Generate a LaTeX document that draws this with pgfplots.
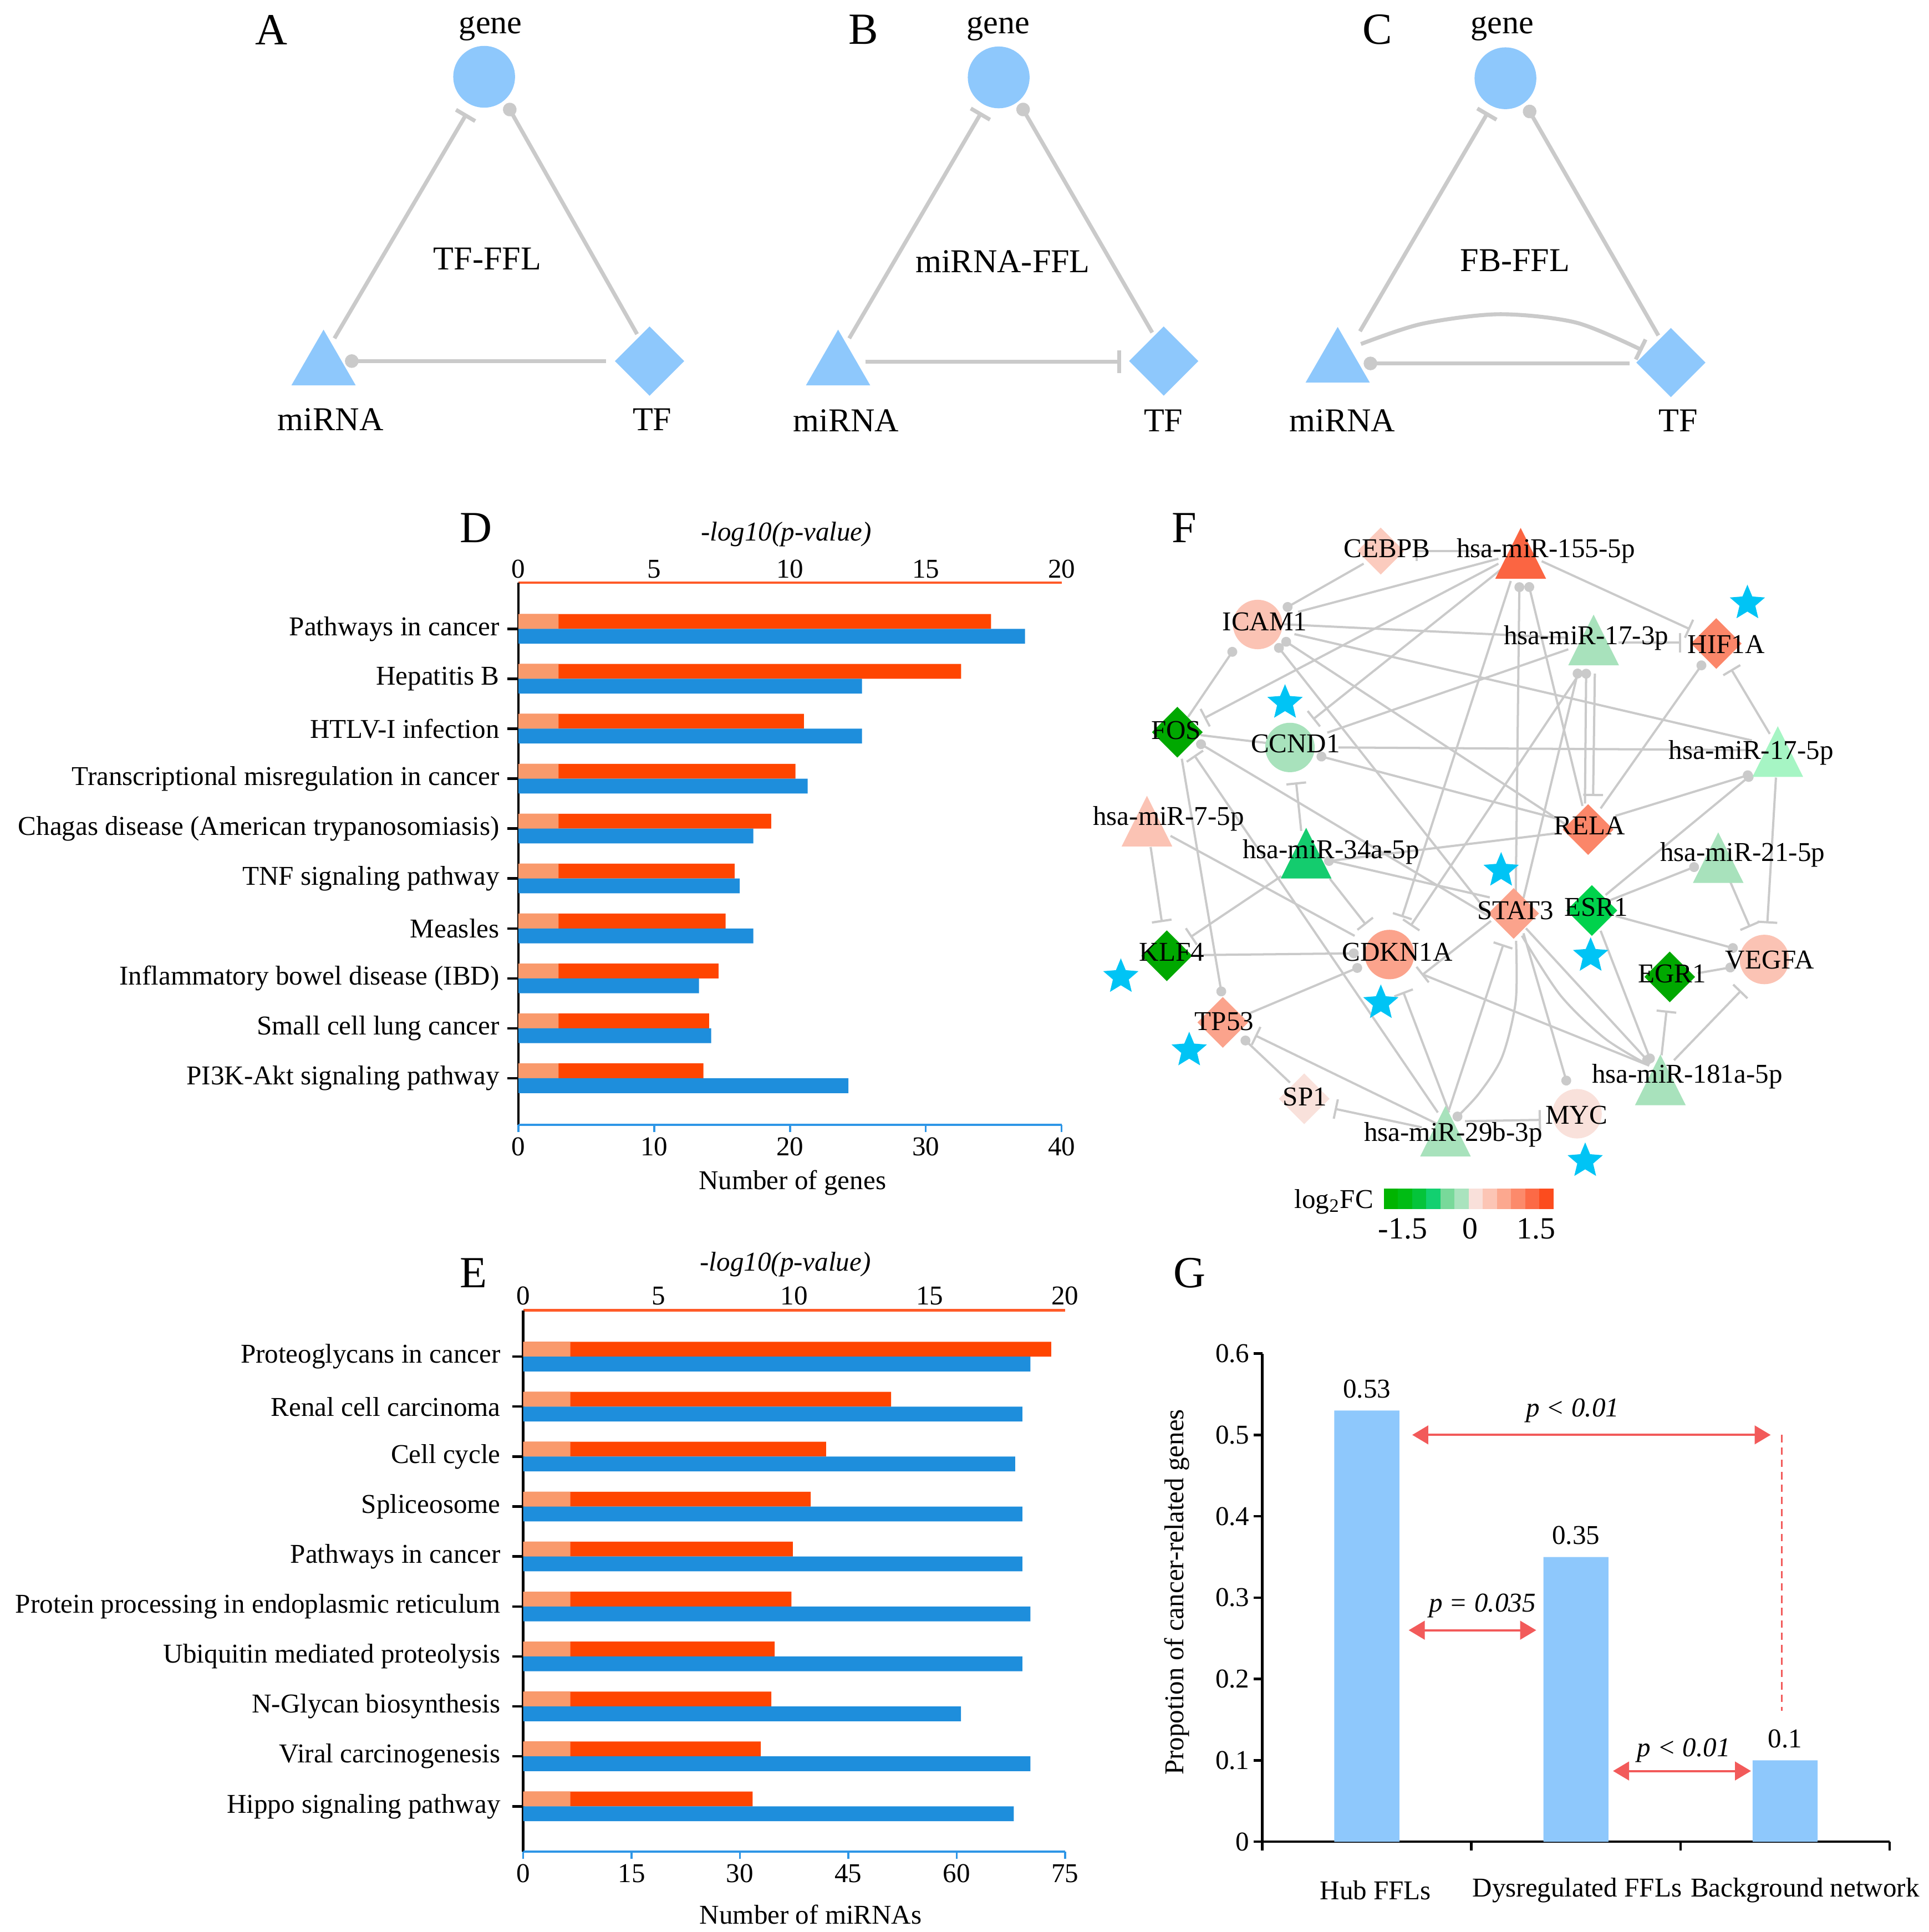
\documentclass[border=0pt]{standalone}
\usepackage{pgfplots}
\pgfplotsset{compat=1.18}
\usepackage{fontspec}
\setmainfont{Liberation Serif}
\usetikzlibrary{arrows.meta}

\newcommand{\fsz}[1]{\fontsize{#1}{#1}\selectfont}

\definecolor{nodeblue}{HTML}{8EC8FC}
\definecolor{edgegray}{HTML}{CACACA}
\definecolor{barorange}{HTML}{FF4500}
\definecolor{lightorange}{HTML}{F99A6C}
\definecolor{barblue}{HTML}{1E8EDC}
\definecolor{axorange}{HTML}{FF5A28}
\definecolor{axblue}{HTML}{2E96E6}
\definecolor{pred}{HTML}{F25A5A}
\definecolor{starblue}{HTML}{00C4F5}
\definecolor{fpink}{HTML}{FBC3B4}
\definecolor{fpinkb}{HTML}{FBCBBE}
\definecolor{fsalmon}{HTML}{FBA38C}
\definecolor{forange}{HTML}{FB8669}
\definecolor{fred}{HTML}{FB6542}
\definecolor{fpale}{HTML}{F9E1DB}
\definecolor{fgreenL}{HTML}{A8E2BC}
\definecolor{fmint}{HTML}{A6F5C4}
\definecolor{fgreenM}{HTML}{14CC6E}
\definecolor{fgreenB}{HTML}{00D24C}
\definecolor{fgreenD}{HTML}{00A800}
\definecolor{cba}{HTML}{00B400}
\definecolor{cbb}{HTML}{00BC14}
\definecolor{cbc}{HTML}{04C43A}
\definecolor{cbd}{HTML}{12D070}
\definecolor{cbe}{HTML}{78D99A}
\definecolor{cbf}{HTML}{AAE3BE}
\definecolor{cbg}{HTML}{F9E0DA}
\definecolor{cbh}{HTML}{FCC5B5}
\definecolor{cbi}{HTML}{FCA88F}
\definecolor{cbj}{HTML}{FC8A6B}
\definecolor{cbk}{HTML}{FC6A46}
\definecolor{cbl}{HTML}{FC4C1E}

% node shapes, centred on their bounding box
\pgfdeclareplotmark{dot}{\pgfpathcircle{\pgfpointorigin}{\pgfplotmarksize}\pgfusepathqfill}
\pgfdeclareplotmark{tri}{%
  \pgfpathmoveto{\pgfqpoint{0pt}{0.866\pgfplotmarksize}}%
  \pgfpathlineto{\pgfqpoint{\pgfplotmarksize}{-0.866\pgfplotmarksize}}%
  \pgfpathlineto{\pgfqpoint{-\pgfplotmarksize}{-0.866\pgfplotmarksize}}%
  \pgfpathclose\pgfusepathqfill}
\pgfdeclareplotmark{trif}{%
  \pgfpathmoveto{\pgfqpoint{0pt}{\pgfplotmarksize}}%
  \pgfpathlineto{\pgfqpoint{\pgfplotmarksize}{-\pgfplotmarksize}}%
  \pgfpathlineto{\pgfqpoint{-\pgfplotmarksize}{-\pgfplotmarksize}}%
  \pgfpathclose\pgfusepathqfill}
\pgfdeclareplotmark{dia}{%
  \pgfpathmoveto{\pgfqpoint{0pt}{\pgfplotmarksize}}%
  \pgfpathlineto{\pgfqpoint{\pgfplotmarksize}{0pt}}%
  \pgfpathlineto{\pgfqpoint{0pt}{-\pgfplotmarksize}}%
  \pgfpathlineto{\pgfqpoint{-\pgfplotmarksize}{0pt}}%
  \pgfpathclose\pgfusepathqfill}
\pgfdeclareplotmark{fstar}{%
  \pgfpathmoveto{\pgfqpoint{0pt}{\pgfplotmarksize}}%
  \pgfpathlineto{\pgfqpoint{-0.265\pgfplotmarksize}{0.364\pgfplotmarksize}}%
  \pgfpathlineto{\pgfqpoint{-0.951\pgfplotmarksize}{0.309\pgfplotmarksize}}%
  \pgfpathlineto{\pgfqpoint{-0.428\pgfplotmarksize}{-0.139\pgfplotmarksize}}%
  \pgfpathlineto{\pgfqpoint{-0.588\pgfplotmarksize}{-0.809\pgfplotmarksize}}%
  \pgfpathlineto{\pgfqpoint{0pt}{-0.45\pgfplotmarksize}}%
  \pgfpathlineto{\pgfqpoint{0.588\pgfplotmarksize}{-0.809\pgfplotmarksize}}%
  \pgfpathlineto{\pgfqpoint{0.428\pgfplotmarksize}{-0.139\pgfplotmarksize}}%
  \pgfpathlineto{\pgfqpoint{0.951\pgfplotmarksize}{0.309\pgfplotmarksize}}%
  \pgfpathlineto{\pgfqpoint{0.265\pgfplotmarksize}{0.364\pgfplotmarksize}}%
  \pgfpathclose\pgfusepathqfill}

\pgfplotsset{
  canvas/.style={at={(0pt,0pt)}, anchor=north west, scale only axis,
    width=780pt, height=781.5pt, xmin=0, xmax=1560, ymin=0, ymax=1563, y dir=reverse,
    hide axis, clip=false},
  edgeA/.style={color=edgegray, line width=1.6pt, no marks},
  edgeF/.style={color=edgegray, line width=0.9pt, no marks},
  inhA/.style={edgeA, -{Bar[width=9pt]}},
  actA/.style={edgeA, -{Circle[length=5.5pt]}},
  inhF/.style={edgeF, -{Bar[width=8pt]}},
  actF/.style={edgeF, -{Circle[length=4pt]}},
  cb/.style={draw=none, fill=#1},
}

\begin{document}
\begin{tikzpicture}

% ---------- canvas in reference pixels (half points): networks A, B, C, F
\begin{axis}[canvas]

% A
\addplot[inhA] coordinates {(270.5,273.7) (377.4,92)};
\addplot[actA] coordinates {(515.3,270.3) (409.6,83.8)};
\addplot[actA] coordinates {(490,292.1) (279,292.1)};
% B
\addplot[inhA] coordinates {(686.9,273.7) (793.8,90.9)};
\addplot[actA] coordinates {(932,269) (824.8,83.8)};
\addplot[inhA] coordinates {(699.9,292.6) (906.9,292.6)};
% C
\addplot[inhA] coordinates {(1100,268) (1203.5,90.9)};
\addplot[actA] coordinates {(1341.4,271.4) (1234.5,85.4)};
\addplot[actA] coordinates {(1318.2,294) (1103,294)};
\addplot[inhA, smooth] coordinates {(1100.8,278.3) (1150,262) (1212.6,254.2) (1275,261) (1328.5,283.4)};

\addplot[only marks, mark=dot, mark size=12.5pt, color=nodeblue] coordinates {(391.6,62.1) (807.8,62.6) (1217.7,63.3)};
\addplot[only marks, mark=tri, mark size=13pt, color=nodeblue] coordinates {(261.7,289.2) (677.9,289.2) (1082,287)};
\addplot[only marks, mark=dia, mark size=14pt, color=nodeblue] coordinates {(525.4,292.1) (941.3,292.1) (1351.5,293.3)};

% F edges
\addplot[inhF] coordinates {(1212,446) (1145,446)};
\addplot[actF] coordinates {(1103,456) (1038,493)};
\addplot[edgeF] coordinates {(1212,452) (1050,495)};
\addplot[inhF] coordinates {(1212,456) (974,581)};
\addplot[actF] coordinates {(961,580) (999,524)};
\addplot[inhF] coordinates {(1215,460) (1062,582)};
\addplot[inhF] coordinates {(1247,454) (1367,509)};
\addplot[actF] coordinates {(1226,726) (1229,471)};
\addplot[actF] coordinates {(1280,652) (1236,471)};
\addplot[inhF] coordinates {(1222,470) (1134,742)};
\addplot[edgeF] coordinates {(1037,505) (1268,516)};
\addplot[inhF] coordinates {(1309,520) (1360,520)};
\addplot[edgeF] coordinates {(1047,513) (1417,599)};
\addplot[actF] coordinates {(1268,668) (1037,517)};
\addplot[actF] coordinates {(1204,739) (1032,521)};
\addplot[edgeF] coordinates {(1073.6,592.7) (1268.5,525.3)};
\addplot[edgeF] coordinates {(1082.6,604.7) (1418,606.8)};
\addplot[actF] coordinates {(1258.5,662) (1065,611)};
\addplot[edgeF] coordinates {(971,594.7) (1024,601)};
\addplot[actF] coordinates {(1204,741) (968,600)};
\addplot[inhF] coordinates {(1163,900) (966,611)};
\addplot[actF] coordinates {(955.9,613.8) (988.5,806)};
\addplot[inhF] coordinates {(930.7,685.2) (939.8,746)};
\addplot[edgeF] coordinates {(946.8,676.2) (1095.7,757.1)};
\addplot[inhF] coordinates {(1075.6,710.8) (1104.8,748)};
\addplot[inhF] coordinates {(1052.5,672.2) (1048.4,632.9)};
\addplot[inhF] coordinates {(1036.4,708.8) (962.9,758.1)};
\addplot[actF] coordinates {(1258.5,674.2) (1071,697)};
\addplot[edgeF] coordinates {(1075.6,696.3) (1205,726)};
\addplot[actF] coordinates {(973.4,772.6) (1099,771.2)};
\addplot[actF] coordinates {(1282,650) (1283,541)};
\addplot[inhF] coordinates {(1290,545) (1288.6,644)};
\addplot[inhF] coordinates {(1278.6,543.4) (1141,749)};
\addplot[actF] coordinates {(1232.3,726.5) (1277,541)};
\addplot[actF] coordinates {(1294.7,654) (1378.5,535)};
\addplot[inhF] coordinates {(1431.5,593.7) (1400.3,541.4)};
\addplot[actF] coordinates {(1306.7,660) (1417.5,626)};
\addplot[actF] coordinates {(1298.7,724) (1417.5,626)};
\addplot[inhF] coordinates {(1436.5,629) (1429.5,747)};
\addplot[inhF] coordinates {(1399.3,712.8) (1415.4,750)};
\addplot[actF] coordinates {(1300.7,728.9) (1374,700)};
\addplot[actF] coordinates {(1306.7,741) (1405.5,768)};
\addplot[actF] coordinates {(1373.1,787.3) (1403.5,782)};
\addplot[inhF] coordinates {(1344,853.7) (1348,817.5)};
\addplot[inhF] coordinates {(1354,857.7) (1408.3,801.4)};
\addplot[actF] coordinates {(1294.7,753) (1336,860)};
\addplot[actF] coordinates {(1234.3,751) (1335,860.5)};
\addplot[edgeF, smooth] coordinates {(1231,757) (1262,805) (1298,840) (1334,862)};
\addplot[edgeF] coordinates {(1151,788.4) (1333.8,862)};
\addplot[actF] coordinates {(1232.3,755) (1268,878)};
\addplot[actF, smooth] coordinates {(1226.3,761.1) (1226,810) (1215,855) (1196,885) (1176,906)};
\addplot[inhF] coordinates {(1172,898) (1216,764)};
\addplot[inhF] coordinates {(1185,907) (1246.4,906)};
\addplot[inhF] coordinates {(1150,912) (1079.6,897)};
\addplot[inhF] coordinates {(1164.1,910) (1015.2,837.6)};
\addplot[actF] coordinates {(1043.4,875.8) (1004.5,839)};
\addplot[actF] coordinates {(1011.2,819.5) (1101.5,781.5)};
\addplot[inhF] coordinates {(1172.2,900) (1135,802.4)};
\addplot[inhF] coordinates {(1206,745) (1150,789)};

% F nodes
\addplot[only marks, mark=dot, mark size=10pt, color=fpink] coordinates {(1017.3,505.2) (1427.1,776.2)};
\addplot[only marks, mark=dot, mark size=10pt, color=fgreenL] coordinates {(1043.4,604.7)};
\addplot[only marks, mark=dot, mark size=10pt, color=fsalmon] coordinates {(1123.9,772.2)};
\addplot[only marks, mark=dot, mark size=10pt, color=fpale] coordinates {(1275.6,901)};
\addplot[only marks, mark=dia, mark size=9.5pt, color=fpinkb] coordinates {(1116.8,445.8)};
\addplot[only marks, mark=dia, mark size=10.25pt, color=forange] coordinates {(1388.2,520.6) (1284.6,671.1)};
\addplot[only marks, mark=dia, mark size=10.25pt, color=fgreenD] coordinates {(952.3,592.3) (943.8,773.2) (1350.6,790.3)};
\addplot[only marks, mark=dia, mark size=10.25pt, color=fgreenB] coordinates {(1287.6,736.6)};
\addplot[only marks, mark=dia, mark size=10.25pt, color=fsalmon] coordinates {(1224.3,739) (989.1,827.1)};
\addplot[only marks, mark=dia, mark size=10.25pt, color=fpale] coordinates {(1054.9,888.9)};
\addplot[only marks, mark=trif, mark size=10.25pt, color=fred] coordinates {(1230,447.6)};
\addplot[only marks, mark=trif, mark size=10.25pt, color=fgreenL] coordinates {(1289,517.7) (1389.8,693.8) (1343,873.6) (1169.2,915.1)};
\addplot[only marks, mark=trif, mark size=10.25pt, color=fmint] coordinates {(1438,608)};
\addplot[only marks, mark=trif, mark size=10.25pt, color=fpink] coordinates {(927.7,664.3)};
\addplot[only marks, mark=trif, mark size=10.25pt, color=fgreenM] coordinates {(1056.5,690.2)};
\addplot[only marks, mark=fstar, mark size=7.5pt, color=starblue] coordinates {(1039.4,568.5) (1413.4,488) (1214.2,704.3) (1286.6,773.2) (906.6,790.3) (1116.9,811.4) (961.9,849.7) (1282.2,939.2)};

% F colour key
\addplot[cb=cba] coordinates {(1119.3,961.6) (1130.7,961.6) (1130.7,978) (1119.3,978)} -- cycle;
\addplot[cb=cbb] coordinates {(1130.7,961.6) (1142.2,961.6) (1142.2,978) (1130.7,978)} -- cycle;
\addplot[cb=cbc] coordinates {(1142.2,961.6) (1153.6,961.6) (1153.6,978) (1142.2,978)} -- cycle;
\addplot[cb=cbd] coordinates {(1153.6,961.6) (1165,961.6) (1165,978) (1153.6,978)} -- cycle;
\addplot[cb=cbe] coordinates {(1165,961.6) (1176.5,961.6) (1176.5,978) (1165,978)} -- cycle;
\addplot[cb=cbf] coordinates {(1176.5,961.6) (1187.9,961.6) (1187.9,978) (1176.5,978)} -- cycle;
\addplot[cb=cbg] coordinates {(1187.9,961.6) (1199.3,961.6) (1199.3,978) (1187.9,978)} -- cycle;
\addplot[cb=cbh] coordinates {(1199.3,961.6) (1210.8,961.6) (1210.8,978) (1199.3,978)} -- cycle;
\addplot[cb=cbi] coordinates {(1210.8,961.6) (1222.2,961.6) (1222.2,978) (1210.8,978)} -- cycle;
\addplot[cb=cbj] coordinates {(1222.2,961.6) (1233.6,961.6) (1233.6,978) (1222.2,978)} -- cycle;
\addplot[cb=cbk] coordinates {(1233.6,961.6) (1245.1,961.6) (1245.1,978) (1233.6,978)} -- cycle;
\addplot[cb=cbl] coordinates {(1245.1,961.6) (1256.5,961.6) (1256.5,978) (1245.1,978)} -- cycle;
\end{axis}

% ---------- same canvas again, only for the text, so that it lies above the nodes
\begin{axis}[canvas]
\node[font=\fsz{18}] at (axis cs:219.5,24) {A};
\node[font=\fsz{18}] at (axis cs:698.6,24) {B};
\node[font=\fsz{18}] at (axis cs:1114.2,24) {C};
\node[font=\fsz{13.5}] at (axis cs:396.8,23) {gene};
\node[font=\fsz{13.5}] at (axis cs:807.3,23) {gene};
\node[font=\fsz{13.5}] at (axis cs:1215.2,23) {gene};
\node[font=\fsz{13.5}] at (axis cs:267.4,339.3) {miRNA};
\node[font=\fsz{13.5}] at (axis cs:684.3,340.4) {miRNA};
\node[font=\fsz{13.5}] at (axis cs:1085.7,340.4) {miRNA};
\node[font=\fsz{13.5}] at (axis cs:527.5,339.3) {TF};
\node[font=\fsz{13.5}] at (axis cs:941,340.4) {TF};
\node[font=\fsz{13.5}] at (axis cs:1357.5,340.4) {TF};
\node[font=\fsz{13.5}] at (axis cs:394.2,209.3) {TF-FFL};
\node[font=\fsz{13.5}] at (axis cs:811.1,211.6) {miRNA-FFL};
\node[font=\fsz{13.5}] at (axis cs:1225.5,210.5) {FB-FFL};

\node[font=\fsz{18}] at (axis cs:958,427) {F};
\node[font=\fsz{11}] at (axis cs:1121.9,443.8) {CEBPB};
\node[font=\fsz{11}] at (axis cs:1250.4,445.8) {hsa-miR-155-5p};
\node[font=\fsz{11}] at (axis cs:1023.1,503.1) {ICAM1};
\node[font=\fsz{11}] at (axis cs:1283,516.2) {hsa-miR-17-3p};
\node[font=\fsz{11}] at (axis cs:1396.3,521.3) {HIF1A};
\node[font=\fsz{11}] at (axis cs:951.3,590.7) {FOS};
\node[font=\fsz{11}] at (axis cs:1047.9,601.7) {CCND1};
\node[font=\fsz{11}] at (axis cs:1416.4,608.8) {hsa-miR-17-5p};
\node[font=\fsz{11}] at (axis cs:945.2,662.1) {hsa-miR-7-5p};
\node[font=\fsz{11}] at (axis cs:1285.8,668.1) {RELA};
\node[font=\fsz{11}] at (axis cs:1076.6,689.3) {hsa-miR-34a-5p};
\node[font=\fsz{11}] at (axis cs:1409.4,691.3) {hsa-miR-21-5p};
\node[font=\fsz{11}] at (axis cs:1225.7,736.6) {STAT3};
\node[font=\fsz{11}] at (axis cs:1291,734) {ESR1};
\node[font=\fsz{11}] at (axis cs:947.8,770.2) {KLF4};
\node[font=\fsz{11}] at (axis cs:1130.3,770.2) {CDKN1A};
\node[font=\fsz{11}] at (axis cs:1352.4,787.9) {EGR1};
\node[font=\fsz{11}] at (axis cs:1431.5,776.8) {VEGFA};
\node[font=\fsz{11}] at (axis cs:990.3,826.5) {TP53};
\node[font=\fsz{11}] at (axis cs:1364.7,870.8) {hsa-miR-181a-5p};
\node[font=\fsz{11}] at (axis cs:1055.5,887.5) {SP1};
\node[font=\fsz{11}] at (axis cs:1275,902) {MYC};
\node[font=\fsz{11}] at (axis cs:1175.5,918) {hsa-miR-29b-3p};
\node[font=\fsz{11}] at (axis cs:1079,972) {log\textsubscript{2}FC};
\node[font=\fsz{12.5}] at (axis cs:1134.7,994) {-1.5};
\node[font=\fsz{12.5}] at (axis cs:1189,994) {0};
\node[font=\fsz{12.5}] at (axis cs:1242.4,994) {1.5};

\node[font=\fsz{18}] at (axis cs:385,427) {D};
\node[font=\fsz{18}] at (axis cs:383,1030) {E};
\node[font=\fsz{18}] at (axis cs:962,1030) {G};
\node[font=\fsz{11}\itshape] at (axis cs:636,432.4) {-log10(p-value)};
\node[font=\fsz{11}\itshape] at (axis cs:635.3,1023) {-log10(p-value)};
\node[font=\fsz{11}] at (axis cs:641,957) {Number of genes};
\node[font=\fsz{11}] at (axis cs:655.8,1549) {Number of miRNAs};
\node[font=\fsz{11}, rotate=90] at (axis cs:952,1288) {Propotion of cancer-related genes};
\node[font=\fsz{11}] at (axis cs:1112.6,1529) {Hub FFLs};
\node[font=\fsz{11}] at (axis cs:1275.7,1529) {Dysregulated FFLs};
\node[font=\fsz{11}] at (axis cs:1460,1529) {Background network};
\node[font=\fsz{11}\itshape] at (axis cs:1272,1141) {p < 0.01};
\node[font=\fsz{11}\itshape] at (axis cs:1199,1299) {p = 0.035};
\node[font=\fsz{11}\itshape] at (axis cs:1362,1416) {p < 0.01};
\end{axis}

% ---------- D: -log10(p) (top, orange) and number of genes (bottom, blue)
\begin{axis}[at={(209.65pt,-235.65pt)}, anchor=north west, scale only axis,
  width=219.7pt, height=219.35pt, xmin=0, xmax=20, ymin=0.067, ymax=10.926,
  axis x line*=top, axis y line*=left,
  x axis line style={draw=axorange, line width=1pt, -},
  y axis line style={draw=black, line width=1pt, -},
  xtick={0,5,10,15,20}, xtick style={draw=none},
  ytick={1,...,10},
  yticklabels={PI3K-Akt signaling pathway, Small cell lung cancer, Inflammatory bowel disease (IBD), Measles, TNF signaling pathway, Chagas disease (American trypanosomiasis), Transcriptional misregulation in cancer, HTLV-I infection, Hepatitis B, Pathways in cancer},
  tick align=outside, major tick length=4.5pt, ytick style={black, line width=1pt},
  tick label style={font=\fsz{11}}, yticklabel style={inner sep=3pt}, xticklabel style={inner sep=1pt, yshift=-4pt},
  /pgf/number format/assume math mode=true,
  xbar, bar width=6pt, clip=false]
\addplot[fill=barorange, draw=none, bar shift=3pt] coordinates {(6.81,1) (7.02,2) (7.37,3) (7.63,4) (7.96,5) (9.31,6) (10.20,7) (10.51,8) (16.30,9) (17.40,10)};
\addplot[fill=lightorange, draw=none, bar shift=3pt] coordinates {(1.48,1) (1.48,2) (1.48,3) (1.48,4) (1.48,5) (1.48,6) (1.48,7) (1.48,8) (1.48,9) (1.48,10)};
\end{axis}
\begin{axis}[at={(209.65pt,-235.65pt)}, anchor=north west, scale only axis,
  width=219.7pt, height=219.35pt, xmin=0, xmax=40, ymin=0.067, ymax=10.926,
  axis x line*=bottom, axis y line=none,
  x axis line style={draw=axblue, line width=1pt, -},
  xtick={0,10,20,30,40}, xtick style={axblue, line width=0.8pt}, ytick=\empty,
  tick align=outside, major tick length=3pt,
  tick label style={font=\fsz{11}}, xticklabel style={inner sep=2pt},
  /pgf/number format/assume math mode=true,
  xbar, bar width=6pt, clip=false]
\addplot[fill=barblue, draw=none, bar shift=-3pt] coordinates {(24.3,1) (14.2,2) (13.3,3) (17.3,4) (16.3,5) (17.3,6) (21.3,7) (25.3,8) (25.3,9) (37.3,10)};
\end{axis}

% ---------- E: -log10(p) (top, orange) and number of miRNAs (bottom, blue)
\begin{axis}[at={(211.6pt,-530pt)}, anchor=north west, scale only axis,
  width=219.15pt, height=219pt, xmin=0, xmax=20, ymin=0.092, ymax=10.928,
  axis x line*=top, axis y line*=left,
  x axis line style={draw=axorange, line width=1pt, -},
  y axis line style={draw=black, line width=1pt, -},
  xtick={0,5,10,15,20}, xtick style={draw=none},
  ytick={1,...,10},
  yticklabels={Hippo signaling pathway, Viral carcinogenesis, N-Glycan biosynthesis, Ubiquitin mediated proteolysis, Protein processing in endoplasmic reticulum, Pathways in cancer, Spliceosome, Cell cycle, Renal cell carcinoma, Proteoglycans in cancer},
  tick align=outside, major tick length=4.5pt, ytick style={black, line width=1pt},
  tick label style={font=\fsz{11}}, yticklabel style={inner sep=4.5pt}, xticklabel style={inner sep=1pt, yshift=-3.5pt},
  /pgf/number format/assume math mode=true,
  xbar, bar width=6pt, clip=false]
\addplot[fill=barorange, draw=none, bar shift=3pt] coordinates {(8.47,1) (8.77,2) (9.16,3) (9.28,4) (9.90,5) (9.95,6) (10.61,7) (11.18,8) (13.58,9) (19.49,10)};
\addplot[fill=lightorange, draw=none, bar shift=3pt] coordinates {(1.74,1) (1.74,2) (1.74,3) (1.74,4) (1.74,5) (1.74,6) (1.74,7) (1.74,8) (1.74,9) (1.74,10)};
\end{axis}
\begin{axis}[at={(211.6pt,-530pt)}, anchor=north west, scale only axis,
  width=219.15pt, height=219pt, xmin=0, xmax=75, ymin=0.092, ymax=10.928,
  axis x line*=bottom, axis y line=none,
  x axis line style={draw=axblue, line width=1pt, -},
  xtick={0,15,30,45,60,75}, xtick style={axblue, line width=0.8pt}, ytick=\empty,
  tick align=outside, major tick length=3pt,
  tick label style={font=\fsz{11}}, xticklabel style={inner sep=2pt},
  /pgf/number format/assume math mode=true,
  xbar, bar width=6pt, clip=false]
\addplot[fill=barblue, draw=none, bar shift=-3pt] coordinates {(67.9,1) (70.2,2) (60.6,3) (69.1,4) (70.2,5) (69.1,6) (69.1,7) (68.1,8) (69.1,9) (70.2,10)};
\end{axis}

% ---------- G: proportion of cancer-related genes
\begin{axis}[at={(510.5pt,-547.5pt)}, anchor=north west, scale only axis,
  width=253.75pt, height=197.5pt, xmin=-0.5, xmax=2.5, ymin=0, ymax=0.6,
  axis x line*=bottom, axis y line*=left,
  axis line style={black, line width=1pt, -},
  xtick={-0.5,0.5,1.5,2.5}, xticklabels={,,,},
  ytick={0,0.1,0.2,0.3,0.4,0.5,0.6},
  tick align=outside, major tick length=3.5pt, tick style={black, line width=1pt},
  tick label style={font=\fsz{11}}, yticklabel style={inner sep=1.5pt},
  /pgf/number format/assume math mode=true, clip=false]
\addplot[ybar, bar width=26.3pt, fill=nodeblue, draw=none,
  nodes near coords, nodes near coords style={font=\fsz{11}, yshift=1.5pt, text=black}]
  coordinates {(0,0.53) (1,0.35) (2,0.1)};
\addplot[sharp plot, no marks, color=pred, line width=0.9pt, >={Triangle[length=6.5pt,width=7.5pt]}, <->] coordinates {(0.217,0.5) (1.931,0.5)};
\addplot[sharp plot, no marks, color=pred, line width=0.9pt, >={Triangle[length=6.5pt,width=7.5pt]}, <->] coordinates {(0.2,0.26) (0.81,0.26)};
\addplot[sharp plot, no marks, color=pred, line width=0.9pt, >={Triangle[length=6.5pt,width=7.5pt]}, <->] coordinates {(1.177,0.087) (1.837,0.087)};
\addplot[sharp plot, no marks, color=pred, line width=0.7pt, dash pattern=on 3pt off 2pt] coordinates {(1.984,0.5) (1.984,0.161)};
\end{axis}

\pgfresetboundingbox
\path[use as bounding box] (0pt,0pt) rectangle (780pt,-781.5pt);
\end{tikzpicture}
\end{document}
